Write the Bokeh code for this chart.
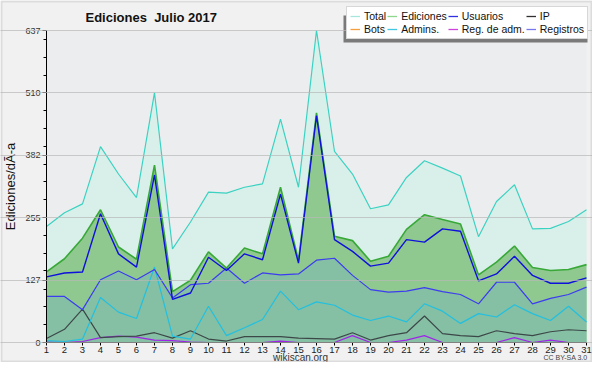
import math
from bokeh.plotting import figure
from bokeh.models import (Range1d, FixedTicker, Label, Legend, LegendItem,
                          BoxAnnotation, ColumnDataSource)
from bokeh.embed import file_html
from bokeh.resources import INLINE

days = list(range(1, 32))
total = [237, 265, 283, 400, 344, 296, 510, 191, 246, 307, 305, 317, 324, 456, 317, 637,
         390, 344, 273, 281, 337, 371, 356, 340, 216, 288, 322, 232, 233, 247, 271]
ediciones = [144, 171, 213, 271, 195, 170, 362, 104, 127, 185, 152, 193, 181, 317, 168, 469,
             217, 208, 166, 176, 231, 261, 251, 242, 138, 164, 197, 153, 147, 149, 159]
usuarios = [134, 142, 144, 263, 181, 154, 342, 88, 101, 174, 147, 181, 169, 303, 162, 463,
            210, 186, 156, 162, 210, 205, 232, 227, 126, 140, 176, 137, 121, 121, 132]
ip = [8, 27, 68, 10, 12, 13, 20, 9, 24, 7, 3, 12, 12, 12, 9, 8,
      7, 20, 5, 14, 20, 54, 18, 14, 12, 24, 18, 14, 22, 26, 24]
bots = [0, 0, 0, 0, 0, 0, 0, 0, 0, 0, 0, 0, 0, 0, 0, 0,
        0, 0, 0, 0, 0, 0, 0, 0, 0, 0, 0, 0, 0, 0, 0]
admins = [4, 2, 7, 92, 62, 49, 154, 13, 7, 74, 14, 30, 47, 105, 67, 83,
          76, 56, 45, 54, 42, 79, 64, 39, 59, 52, 77, 59, 45, 74, 42]
reg_adm = [1, 0, 2, 10, 13, 11, 5, 4, 1, 0, 0, 0, 0, 3, 0, 0,
           0, 14, 0, 0, 5, 14, 0, 0, 0, 0, 10, 0, 5, 0, 0]
registros = [94, 94, 67, 128, 146, 128, 149, 91, 118, 121, 152, 121, 142, 138, 140, 168,
             172, 137, 108, 103, 105, 112, 104, 98, 79, 123, 123, 79, 90, 98, 113]

y_major = [0, 127, 255, 382, 510, 637]
y_minor = [36, 73, 109, 146, 182, 218, 291, 328, 364, 400, 437, 473, 546, 582, 619]
y_max = 637
x_first, x_last = days[0], days[-1]

src = ColumnDataSource(dict(x=days, total=total, ediciones=ediciones, usuarios=usuarios,
                            ip=ip, bots=bots, admins=admins, reg_adm=reg_adm,
                            registros=registros, zero=[0] * len(days)))

FONT = "Liberation Sans"
W, H = 592, 362
# pixel targets inside the canvas (the frame covers the whole canvas)
X_FIRST_PX, X_LAST_PX = 46, 586
Y_TOP_PX, Y_ZERO_PX = 30, 342
xs = (X_LAST_PX - X_FIRST_PX) / (x_last - x_first)
ys = (Y_ZERO_PX - Y_TOP_PX) / y_max
x_start = x_first - X_FIRST_PX / xs
x_end = x_last + (W - X_LAST_PX) / xs
y_start = -(H - Y_ZERO_PX) / ys
y_end = y_max + Y_TOP_PX / ys

p = figure(width=W, height=H, output_backend="svg", toolbar_location=None,
           x_range=Range1d(x_start, x_end), y_range=Range1d(y_start, y_end),
           min_border_left=0, min_border_right=0, min_border_top=0, min_border_bottom=0)
p.border_fill_color = "#f1f1f1"
p.background_fill_color = "#f1f1f1"
p.outline_line_color = None

# plot-area tint
p.add_layout(BoxAnnotation(left=x_first, right=x_last, bottom=0, top=y_max, fill_color="#ecedef",
                           fill_alpha=1, line_color=None, level="underlay"))

# areas
p.varea(x="x", y1="zero", y2="total", source=src, fill_color="#d8f0e9")
p.varea(x="x", y1="zero", y2="ediciones", source=src, fill_color="#8fc98f")
p.varea(x="x", y1="zero", y2="registros", source=src, fill_color="#85bfa4")

# lines
p.line("x", "bots", source=src, line_color="#f0a040", line_width=1.2)
p.line("x", "reg_adm", source=src, line_color="#a024e8", line_width=1.2)
p.line("x", "ip", source=src, line_color="#3c4848", line_width=1.2)
p.line("x", "admins", source=src, line_color="#22c0e0", line_width=1.2)
p.line("x", "registros", source=src, line_color="#3c3cf0", line_width=1.2)
p.line("x", "ediciones", source=src, line_color="#38a838", line_width=1.6)
p.line("x", "usuarios", source=src, line_color="#1010dc", line_width=1.4)
p.line("x", "total", source=src, line_color="#3cd2c2", line_width=1.2)

# axes
p.xaxis.fixed_location = 0
p.xaxis.bounds = (x_first, x_last)
p.xaxis.ticker = FixedTicker(ticks=days)
p.xaxis.major_tick_out = 3
p.xaxis.major_tick_in = 0
p.xaxis.minor_tick_out = 0
p.xaxis.major_label_standoff = 1
p.xaxis.major_label_text_font = FONT
p.xaxis.major_label_text_font_size = "9.5px"
p.xaxis.major_label_text_color = "#222222"
p.xaxis.axis_line_color = "black"

p.yaxis.fixed_location = x_first
p.yaxis.bounds = (0, y_max)
p.yaxis.ticker = FixedTicker(ticks=y_major, minor_ticks=y_minor)
p.yaxis.major_tick_out = 4
p.yaxis.major_tick_in = 0
p.yaxis.minor_tick_out = 3
p.yaxis.minor_tick_in = 0
p.yaxis.major_label_standoff = 2
p.yaxis.major_label_text_font = FONT
p.yaxis.major_label_text_font_size = "9px"
p.yaxis.major_label_text_color = "#333333"
p.yaxis.axis_label = "Ediciones/dÃ-a"
p.yaxis.axis_label_text_font = FONT
p.yaxis.axis_label_text_font_size = "13px"
p.yaxis.axis_label_text_font_style = "normal"
p.yaxis.axis_label_text_color = "#111111"
p.yaxis.axis_label_standoff = 4

p.xgrid.visible = False
p.ygrid.grid_line_color = "#b8b8b8"
p.ygrid.grid_line_alpha = 0.7
p.ygrid.level = "overlay"
p.ygrid.bounds = (x_first, x_last)

# texts (screen units: origin at the canvas bottom-left, since the frame fills it)
p.add_layout(Label(x=85, y=H - 17, x_units="screen", y_units="screen",
                   text="Ediciones\u00a0 Julio 2017", text_font=FONT, text_font_style="bold",
                   text_font_size="13px", text_baseline="middle", text_color="#111111"))
p.add_layout(Label(x=300, y=H - 357, x_units="screen", y_units="screen",
                   text="wikiscan.org", text_font=FONT, text_font_size="10px",
                   text_align="center", text_baseline="middle", text_color="#333333"))
p.add_layout(Label(x=587, y=H - 357, x_units="screen", y_units="screen",
                   text="CC BY-SA 3.0", text_font=FONT, text_font_size="7px",
                   text_align="right", text_baseline="middle", text_color="#444444"))

# legend shadow
p.add_layout(BoxAnnotation(left=343, right=587, bottom=H - 42, top=H - 15,
                           left_units="screen", right_units="screen",
                           bottom_units="screen", top_units="screen",
                           fill_color="#7a7a7a", fill_alpha=1, line_color=None))

leg_names = ["Total", "Ediciones", "Usuarios", "IP", "Bots", "Admins.", "Reg. de adm.", "Registros"]
leg_colors = ["#a8e6dc", "#8ed88e", "#3030e0", "#303030", "#f5a040", "#40c8e0", "#cc44dd", "#7777ee"]
items = []
for name, col in zip(leg_names, leg_colors):
    r = p.line(x=[math.nan], y=[math.nan], line_color=col, line_width=1.3)
    items.append(LegendItem(label=name, renderers=[r]))
legend = Legend(items=items, location=(346, H - 39), orientation="horizontal", ncols=4,
                label_text_font=FONT, label_text_font_size="10.5px", label_text_color="#111111",
                label_height=10, glyph_height=10, glyph_width=10, label_standoff=4,
                spacing=1, padding=3, margin=0,
                border_line_color="#b0b0b0", border_line_width=1,
                background_fill_color="white", background_fill_alpha=1)
p.add_layout(legend, "center")

# outer picture border
p.add_layout(BoxAnnotation(left=1, right=W - 1, bottom=1, top=H - 1,
                           left_units="screen", right_units="screen",
                           bottom_units="screen", top_units="screen",
                           fill_alpha=0, line_color="#ababab", line_width=2, level="overlay"))

open("out.html", "w").write(file_html(p, INLINE))
